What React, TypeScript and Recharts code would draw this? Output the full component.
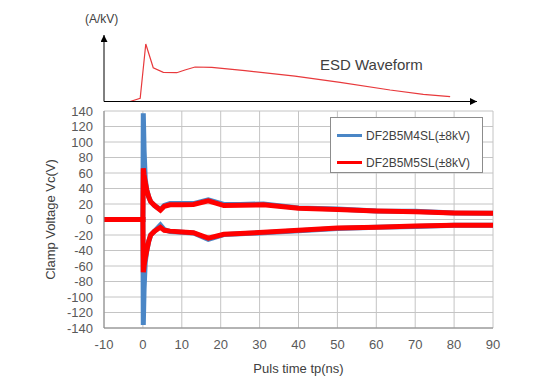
import {
  CartesianGrid,
  Legend,
  Line,
  LineChart,
  XAxis,
  YAxis,
} from 'recharts'

const FONT = '"Liberation Sans", Arial, sans-serif'
const BLUE = '#4a86c6'
const RED = '#ff0000'

// clamp voltage traces (ns / V)
const TIMES = [-10, -0.1, 0, 0.1, 0.3, 0.6, 1, 1.5, 2, 3, 4.5, 5.5, 7, 10, 13, 16.8, 20.8, 25, 31, 40, 50, 60, 70, 80, 90]
const BLUE_POS = [0, 0, 0, 137, 90, 52, 38, 29, 23, 18, 13, 18, 20.5, 20.5, 20.5, 25.5, 19.5, 19.5, 20, 15, 13.5, 11, 10.5, 8.5, 8]
const RED_POS = [0, 0, 0, 66, 58, 48, 38, 29, 23, 18, 12, 17, 19, 19, 19.5, 24, 18, 18.5, 19, 14.5, 13, 11, 10, 8.5, 8]
const BLUE_NEG = [0, 0, 0, -136, -90, -55, -40, -28, -20, -15, -7, -13, -15.5, -16.5, -17.5, -25.5, -19.5, -18.5, -17, -14.5, -11.5, -10, -9, -7.5, -7.5]
const RED_NEG = [0, 0, 0, -68, -60, -50, -40, -28, -20, -15, -10, -14, -15, -16, -17, -24, -19, -18, -16.5, -14, -11, -10, -8.5, -7.5, -7.5]

const SERIES = [
  { name: 'DF2B5M4SL(±8kV)', color: BLUE },
  { name: 'DF2B5M5SL(±8kV)', color: RED },
]

const X_TICKS = [-10, 0, 10, 20, 30, 40, 50, 60, 70, 80, 90]
const Y_TICKS = [-140, -120, -100, -80, -60, -40, -20, 0, 20, 40, 60, 80, 100, 120, 140]

// ESD waveform sketch (relative units)
const ESD_T = [7, 9.7, 11.2, 13.2, 15.9, 19.5, 21.7, 24.4, 28.9, 37.8, 51.2, 63.3, 76.7, 85.6, 92.8]
const ESD_I = [0, 4.8, 86.5, 50.8, 43.9, 43.3, 47.4, 51.9, 51.4, 46.3, 38.3, 28.9, 17.3, 10.8, 7.2]

const data = TIMES.map((t, i) => ({
  t,
  bluePos: BLUE_POS[i],
  blueNeg: BLUE_NEG[i],
  redPos: RED_POS[i],
  redNeg: RED_NEG[i],
}))

const esdData = ESD_T.map((t, i) => ({ t, i: ESD_I[i] }))

const LegendBox = () => (
  <div
    style={{
      width: 153,
      height: 56,
      boxSizing: 'border-box',
      border: '1px solid #8c8c8c',
      background: '#fff',
      padding: '7px 0 0 6px',
      fontFamily: FONT,
      fontSize: 12,
      color: '#404040',
    }}
  >
    {SERIES.map((s) => (
      <div
        key={s.name}
        style={{ display: 'flex', alignItems: 'center', height: 21, marginBottom: 6 }}
      >
        <span
          style={{
            display: 'inline-block',
            width: 25,
            height: 3,
            background: s.color,
            marginRight: 4,
          }}
        />
        <span>{s.name}</span>
      </div>
    ))}
  </div>
)

export default function App() {
  return (
    <div
      style={{
        position: 'absolute',
        top: 0,
        left: 0,
        width: 550,
        height: 387,
        background: '#fff',
        fontFamily: FONT,
      }}
    >
      <svg width={0} height={0} style={{ position: 'absolute' }}>
        <defs>
          <marker
            id="arrowHead"
            viewBox="0 0 10 10"
            refX={10}
            refY={5}
            markerWidth={7}
            markerHeight={7}
            markerUnits="userSpaceOnUse"
            orient="auto-start-reverse"
          >
            <path d="M0,0 L10,5 L0,10 z" fill="#000" />
          </marker>
        </defs>
      </svg>

      <div style={{ position: 'absolute', top: 0, left: 0 }}>
        <LineChart
          width={550}
          height={387}
          data={data}
          margin={{ top: 111, right: 57, left: 44, bottom: 14 }}
        >
          <CartesianGrid stroke="#c4c4c4" strokeWidth={1} />
          <XAxis
            dataKey="t"
            type="number"
            domain={[-10, 90]}
            ticks={X_TICKS}
            interval={0}
            height={45}
            tickLine={false}
            tickMargin={6}
            axisLine={{ stroke: '#868686' }}
            tick={{ fill: '#595959', fontSize: 13, fontFamily: FONT }}
            label={{
              value: 'Puls time tp(ns)',
              position: 'insideBottom',
              offset: 0,
              fill: '#404040',
              fontSize: 13,
              fontFamily: FONT,
            }}
          />
          <YAxis
            type="number"
            domain={[-140, 140]}
            ticks={Y_TICKS}
            interval={0}
            width={60}
            tickLine={false}
            tickMargin={5}
            axisLine={{ stroke: '#868686' }}
            tick={{ fill: '#595959', fontSize: 13, fontFamily: FONT }}
            label={{
              value: 'Clamp Voltage Vc(V)',
              angle: -90,
              position: 'insideLeft',
              offset: 6,
              style: { textAnchor: 'middle' },
              fill: '#404040',
              fontSize: 13,
              fontFamily: FONT,
            }}
          />
          <Legend
            layout="horizontal"
            verticalAlign="middle"
            align="center"
            content={<LegendBox />}
            wrapperStyle={{ left: 330, top: 117, width: 153, height: 56 }}
          />
          <Line dataKey="bluePos" stroke={BLUE} strokeWidth={5} dot={false} isAnimationActive={false} />
          <Line dataKey="blueNeg" stroke={BLUE} strokeWidth={5} dot={false} isAnimationActive={false} />
          <Line dataKey="redPos" stroke={RED} strokeWidth={5} dot={false} isAnimationActive={false} />
          <Line dataKey="redNeg" stroke={RED} strokeWidth={5} dot={false} isAnimationActive={false} />
        </LineChart>
      </div>

      <div style={{ position: 'absolute', top: 0, left: 0 }}>
        <LineChart
          width={550}
          height={110}
          data={esdData}
          margin={{ top: 35, right: 73, left: 94, bottom: 0 }}
        >
          <XAxis
            dataKey="t"
            type="number"
            domain={[0, 100]}
            height={8.5}
            tick={false}
            tickLine={false}
            axisLine={{ stroke: '#000', markerEnd: 'url(#arrowHead)' }}
          />
          <YAxis
            type="number"
            domain={[0, 100]}
            width={10}
            tick={false}
            tickLine={false}
            axisLine={{ stroke: '#000', markerStart: 'url(#arrowHead)' }}
          />
          <Line
            dataKey="i"
            type="linear"
            stroke="#e8393c"
            strokeWidth={1.2}
            dot={false}
            isAnimationActive={false}
          />
        </LineChart>
      </div>

      <div
        style={{
          position: 'absolute',
          left: 85,
          top: 12,
          fontSize: 12,
          color: '#404040',
        }}
      >
        (A/kV)
      </div>
      <div
        style={{
          position: 'absolute',
          left: 320,
          top: 56,
          fontSize: 15,
          color: '#404040',
        }}
      >
        ESD Waveform
      </div>
    </div>
  )
}
